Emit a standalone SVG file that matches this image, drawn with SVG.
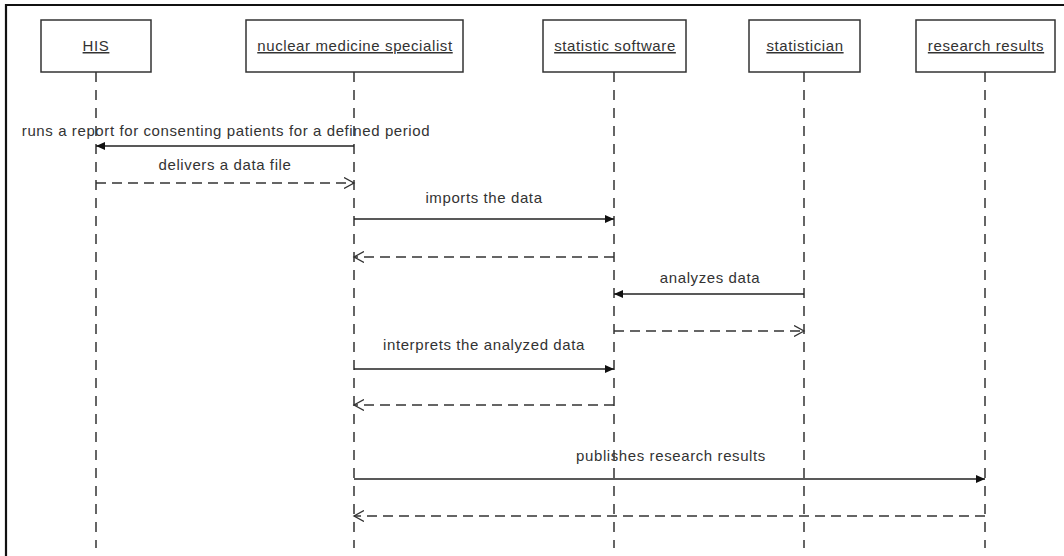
<svg xmlns="http://www.w3.org/2000/svg" width="1064" height="556" viewBox="0 0 1064 556">
<style>
  .box { fill: #ffffff; stroke: #333333; stroke-width: 1.5; }
  .lbl { font-family: "Liberation Sans", Arial, sans-serif; font-size: 15px; letter-spacing: 0.6px; fill: #333333; text-anchor: middle; }
  .ulbl { text-decoration: underline; }
  .life { stroke: #333333; stroke-width: 1.5; stroke-dasharray: 10 8; fill: none; }
  .msg { stroke: #222222; stroke-width: 1.3; fill: none; }
  .ret { stroke: #333333; stroke-width: 1.3; fill: none; stroke-dasharray: 10 6; }
</style>
<defs>
  <marker id="solidHead" markerUnits="userSpaceOnUse" markerWidth="10" markerHeight="10" refX="9" refY="4" orient="auto">
    <path d="M0,0 L9,4 L0,8 z" fill="#111111"/>
  </marker>
  <marker id="openHead" markerUnits="userSpaceOnUse" markerWidth="12" markerHeight="12" refX="10" refY="6" orient="auto">
    <path d="M0,0.5 L10,6 L0,11.5" fill="none" stroke="#333333" stroke-width="1.3"/>
  </marker>
</defs>
<rect x="0" y="0" width="1064" height="556" fill="#ffffff"/>
<path d="M6,556 L6,5 L1064,5" fill="none" stroke="#111111" stroke-width="2.2"/>

<g id="lifelines">
  <line class="life" x1="96" y1="72" x2="96" y2="548"/>
  <line class="life" x1="354" y1="72" x2="354" y2="548"/>
  <line class="life" x1="614" y1="72" x2="614" y2="548"/>
  <line class="life" x1="804" y1="72" x2="804" y2="548"/>
  <line class="life" x1="985" y1="72" x2="985" y2="548"/>
</g>

<g id="node-his">
  <rect class="box" x="41" y="20" width="110" height="52"/>
  <text class="lbl ulbl" x="96" y="51">HIS</text>
</g>
<g id="node-nms">
  <rect class="box" x="246" y="20" width="217" height="52"/>
  <text class="lbl ulbl" x="355" y="51">nuclear medicine specialist</text>
</g>
<g id="node-software">
  <rect class="box" x="543" y="20" width="143" height="52"/>
  <text class="lbl ulbl" x="615" y="51">statistic software</text>
</g>
<g id="node-statistician">
  <rect class="box" x="749" y="20" width="111" height="52"/>
  <text class="lbl ulbl" x="805" y="51">statistician</text>
</g>
<g id="node-results">
  <rect class="box" x="916" y="20" width="139" height="52"/>
  <text class="lbl ulbl" x="986" y="51">research results</text>
</g>

<g id="connectors">
  <line class="msg" x1="354" y1="146" x2="96" y2="146" marker-end="url(#solidHead)"/>
  <line class="ret" x1="96" y1="183" x2="354" y2="183" marker-end="url(#openHead)"/>
  <line class="msg" x1="354" y1="219" x2="614" y2="219" marker-end="url(#solidHead)"/>
  <line class="ret" x1="614" y1="257" x2="354" y2="257" marker-end="url(#openHead)"/>
  <line class="msg" x1="804" y1="294" x2="614" y2="294" marker-end="url(#solidHead)"/>
  <line class="ret" x1="614" y1="331" x2="804" y2="331" marker-end="url(#openHead)"/>
  <line class="msg" x1="354" y1="369" x2="614" y2="369" marker-end="url(#solidHead)"/>
  <line class="ret" x1="614" y1="405" x2="354" y2="405" marker-end="url(#openHead)"/>
  <line class="msg" x1="354" y1="479" x2="985" y2="479" marker-end="url(#solidHead)"/>
  <line class="ret" x1="985" y1="516" x2="354" y2="516" marker-end="url(#openHead)"/>

  <text class="lbl" x="226" y="136">runs a report for consenting patients for a defined period</text>
  <text class="lbl" x="225" y="170">delivers a data file</text>
  <text class="lbl" x="484" y="203">imports the data</text>
  <text class="lbl" x="710" y="283">analyzes data</text>
  <text class="lbl" x="484" y="350">interprets the analyzed data</text>
  <text class="lbl" x="671" y="461">publishes research results</text>
</g>
</svg>
